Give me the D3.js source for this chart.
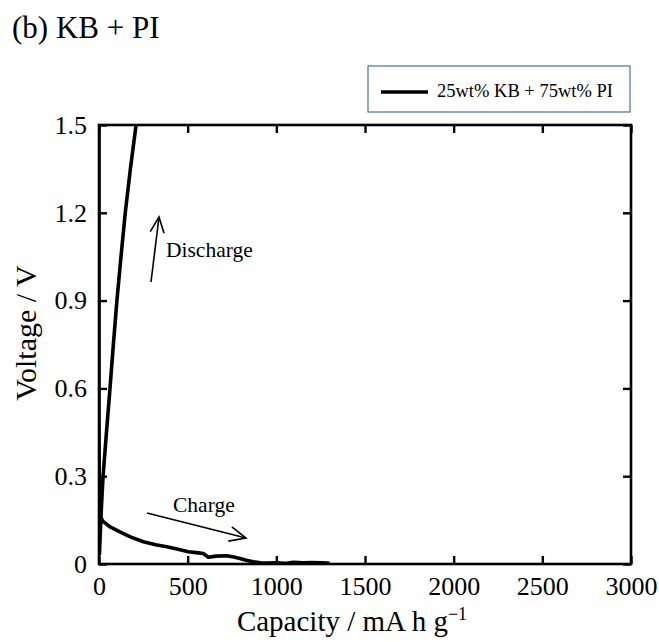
<!DOCTYPE html>
<html>
<head>
<meta charset="utf-8">
<script src="https://cdn.jsdelivr.net/npm/d3@7"></script>
<style>
  html, body { margin: 0; padding: 0; background: #fff; }
  svg { display: block; }
  text { font-family: "Liberation Serif", "Times New Roman", serif; fill: #000; }
</style>
</head>
<body>
<svg id="chart" width="659" height="642"></svg>
<script>
// Galvanostatic charge / discharge curves, 25wt% KB + 75wt% PI electrode
const chargeCapacity = [0, 0, 2, 24, 60, 118, 180, 250, 320, 382, 440, 504, 560, 588, 617, 660, 720, 760, 795, 830, 870, 910, 946, 1000, 1050, 1096, 1150, 1200, 1250, 1284, 1300];
const chargeVoltage  = [1.5, 0.5, 0.167, 0.145, 0.128, 0.110, 0.092, 0.076, 0.066, 0.059, 0.051, 0.042, 0.038, 0.036, 0.023, 0.027, 0.028, 0.024, 0.019, 0.013, 0.008, 0.004, 0.003, 0.004, 0.002, 0.006, 0.004, 0.005, 0.004, 0.003, 0.002];

const dischargeCapacity = [2, 7, 14, 23, 42, 62, 81, 101, 124, 148, 177, 209];
const dischargeVoltage  = [0.03, 0.1, 0.2, 0.3, 0.45, 0.6, 0.75, 0.9, 1.05, 1.2, 1.35, 1.5];

const xTicks = [0, 500, 1000, 1500, 2000, 2500, 3000];
const yTicks = [0, 0.3, 0.6, 0.9, 1.2, 1.5];

const svg = d3.select("#chart");
const m = { left: 99, top: 125, width: 532, height: 439 };

const x = d3.scaleLinear().domain([0, 3000]).range([m.left, m.left + m.width]);
const y = d3.scaleLinear().domain([0, 1.5]).range([m.top + m.height, m.top]);

// Panel title
svg.append("text").attr("x", 12).attr("y", 38)
  .style("font-size", "31px").text("(b) KB + PI");

// Clip for curves
svg.append("defs").append("clipPath").attr("id", "plotClip")
  .append("rect").attr("x", m.left).attr("y", m.top - 2)
  .attr("width", m.width).attr("height", m.height + 2);

const line = d3.line().x(d => x(d[0])).y(d => y(d[1]));
const charge = chargeCapacity.map((c, i) => [c, chargeVoltage[i]]);
const discharge = dischargeCapacity.map((c, i) => [c, dischargeVoltage[i]]);

const curves = svg.append("g").attr("clip-path", "url(#plotClip)");
[charge, discharge].forEach(data => {
  curves.append("path").datum(data).attr("d", line)
    .attr("fill", "none").attr("stroke", "#000")
    .attr("stroke-width", 3.6).attr("stroke-linejoin", "round");
});

// Axes with inward ticks on all four sides
const tickLen = 8;
const axStyle = g => {
  g.select(".domain").remove();
  g.selectAll(".tick line").attr("stroke", "#000").attr("stroke-width", 2.4);
  g.selectAll("text").style("font-family", '"Liberation Serif", serif');
};

const xBottom = svg.append("g").attr("transform", `translate(0,${m.top + m.height})`)
  .call(d3.axisBottom(x).tickValues(xTicks).tickSizeInner(-tickLen).tickSizeOuter(0).tickPadding(13).tickFormat(d3.format("d")));
axStyle(xBottom);
xBottom.selectAll("text").style("font-size", "26px").attr("fill", "#000");

const xTop = svg.append("g").attr("transform", `translate(0,${m.top})`)
  .call(d3.axisTop(x).tickValues(xTicks).tickSizeInner(-tickLen).tickSizeOuter(0).tickFormat(""));
axStyle(xTop);

const yLeft = svg.append("g").attr("transform", `translate(${m.left},0)`)
  .call(d3.axisLeft(y).tickValues(yTicks).tickSizeInner(-tickLen).tickSizeOuter(0).tickPadding(12)
    .tickFormat(d => d === 0 ? "0" : d3.format(".1f")(d)));
axStyle(yLeft);
yLeft.selectAll("text").style("font-size", "26px").attr("fill", "#000");

const yRight = svg.append("g").attr("transform", `translate(${m.left + m.width},0)`)
  .call(d3.axisRight(y).tickValues(yTicks).tickSizeInner(-tickLen).tickSizeOuter(0).tickFormat(""));
axStyle(yRight);

// Frame
svg.append("rect").attr("x", m.left).attr("y", m.top)
  .attr("width", m.width).attr("height", m.height)
  .attr("fill", "none").attr("stroke", "#000").attr("stroke-width", 2.6);

// Axis titles
const xt = svg.append("text").attr("x", 352).attr("y", 631)
  .attr("text-anchor", "middle").style("font-size", "29px");
xt.append("tspan").text("Capacity / mA h g");
xt.append("tspan").attr("dy", -11).style("font-size", "18px").text("\u22121");

svg.append("text").attr("transform", "translate(36,333) rotate(-90)")
  .attr("text-anchor", "middle").style("font-size", "30px").text("Voltage / V");

// Annotations
function arrow(x1, y1, x2, y2, headLen) {
  const a = Math.atan2(y2 - y1, x2 - x1);
  const spread = 0.42;
  const g = svg.append("g").attr("stroke", "#000").attr("stroke-width", 1.6).attr("fill", "none");
  g.append("line").attr("x1", x1).attr("y1", y1).attr("x2", x2).attr("y2", y2);
  g.append("path").attr("d",
    `M${x2 - headLen * Math.cos(a - spread)},${y2 - headLen * Math.sin(a - spread)}L${x2},${y2}L${x2 - headLen * Math.cos(a + spread)},${y2 - headLen * Math.sin(a + spread)}`);
}

arrow(151, 282, 159, 217, 17);
svg.append("text").attr("x", 166).attr("y", 257).style("font-size", "21.5px").text("Discharge");

arrow(147, 513, 246, 538, 18);
svg.append("text").attr("x", 173).attr("y", 512).style("font-size", "21.5px").text("Charge");

// Legend
const lg = svg.append("g");
lg.append("rect").attr("x", 368).attr("y", 66).attr("width", 262).attr("height", 46)
  .attr("fill", "#fff").attr("stroke", "#4a6fa5").attr("stroke-width", 1.2);
lg.append("line").attr("x1", 381).attr("x2", 428).attr("y1", 92).attr("y2", 92)
  .attr("stroke", "#000").attr("stroke-width", 3.6);
lg.append("text").attr("x", 437).attr("y", 97).style("font-size", "18.5px").text("25wt% KB + 75wt% PI");
</script>
</body>
</html>
